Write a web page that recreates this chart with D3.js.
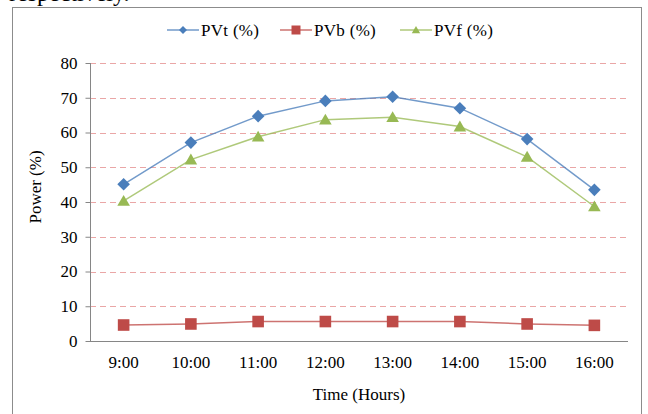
<!DOCTYPE html>
<html>
<head>
<meta charset="utf-8">
<script src="https://cdn.jsdelivr.net/npm/d3@7"></script>
<style>
  html, body { margin: 0; padding: 0; background: #fff; }
  svg { display: block; }
  text { font-family: "Liberation Serif", "Times New Roman", serif; fill: #000; }
</style>
</head>
<body>
<svg id="chart" width="648" height="414"></svg>
<script>
// Hourly readings
const hours = ["9:00", "10:00", "11:00", "12:00", "13:00", "14:00", "15:00", "16:00"];
const pvt = [45.1, 57.1, 64.7, 69.1, 70.3, 67.0, 58.1, 43.5];
const pvb = [4.6, 4.9, 5.6, 5.6, 5.6, 5.6, 4.9, 4.5];
const pvf = [40.3, 52.2, 58.8, 63.7, 64.4, 61.7, 53.0, 38.7];
const yTicks = [0, 10, 20, 30, 40, 50, 60, 70, 80];

const seriesList = [
  { name: "PVt (%)", values: pvt, line: "#4F81BD", fill: "#4A7EBB", shape: "diamond" },
  { name: "PVb (%)", values: pvb, line: "#C0504D", fill: "#BE4B48", shape: "square" },
  { name: "PVf (%)", values: pvf, line: "#9BBB59", fill: "#98B954", shape: "triangle" }
];

const svg = d3.select("#chart");
const margin = { left: 90, right: 628, top: 63, bottom: 341 };

const x = d3.scaleBand().domain(hours).range([margin.left, margin.right]).padding(0);
const y = d3.scaleLinear().domain([0, 80]).range([margin.bottom, margin.top]);

// Line of running text above the figure, running off the top edge
svg.append("text")
  .attr("x", 9).attr("y", 0.5)
  .style("font-size", "24px")
  .text("respectively.");

// Outer frame
svg.append("rect")
  .attr("x", 12.5).attr("y", 7.5)
  .attr("width", 629).attr("height", 420)
  .attr("fill", "#fff").attr("stroke", "#8c8c8c").attr("stroke-width", 1);

// Dashed horizontal gridlines
svg.append("g")
  .selectAll("line")
  .data(yTicks.filter(t => t > 0))
  .join("line")
  .attr("x1", margin.left).attr("x2", margin.right)
  .attr("y1", d => Math.round(y(d)) + 0.5).attr("y2", d => Math.round(y(d)) + 0.5)
  .attr("stroke", "#eaa6a6").attr("stroke-width", 1)
  .attr("stroke-dasharray", "6,4");

// Y axis
const yAxis = svg.append("g")
  .attr("transform", `translate(${margin.left + 0.5},0)`)
  .call(d3.axisLeft(y).tickValues(yTicks).tickSize(5).tickPadding(8).tickFormat(d3.format("d")));
yAxis.select(".domain").attr("stroke", "#868686").attr("d", `M0,${margin.top}V${margin.bottom + 0.5}`);
yAxis.selectAll(".tick line").attr("stroke", "#868686");
yAxis.selectAll(".tick text")
  .style("font-size", "17px")
  .style("font-family", "'Liberation Serif', serif")
  .attr("fill", "#000");

// X axis
const xAxis = svg.append("g")
  .attr("transform", `translate(0,${margin.bottom + 0.5})`)
  .call(d3.axisBottom(x).tickSize(0).tickPadding(14));
xAxis.select(".domain").attr("stroke", "#868686").attr("d", `M${margin.left},0H${margin.right}`);
xAxis.selectAll(".tick text")
  .style("font-size", "17px")
  .style("font-family", "'Liberation Serif', serif")
  .attr("fill", "#000");

// Axis titles
svg.append("text")
  .attr("x", (margin.left + margin.right) / 2).attr("y", 400)
  .attr("text-anchor", "middle")
  .style("font-size", "17px")
  .text("Time (Hours)");

svg.append("text")
  .attr("transform", "translate(41,187) rotate(-90)")
  .attr("text-anchor", "middle")
  .style("font-size", "17px")
  .text("Power (%)");

// Marker shapes
function markerPath(shape, s) {
  if (shape === "diamond") return `M0,${-s}L${s},0L0,${s}L${-s},0Z`;
  if (shape === "square") return `M${-s},${-s}H${s}V${s}H${-s}Z`;
  return `M0,${-s * 1.0}L${s * 1.05},${s * 0.8}H${-s * 1.05}Z`;
}
const markerSize = { diamond: 6.3, square: 5.8, triangle: 6 };

const cx = d => x(d) + x.bandwidth() / 2;
const line = d3.line().x((d, i) => cx(hours[i])).y(d => y(d));

seriesList.forEach(s => {
  const g = svg.append("g");
  g.append("path")
    .datum(s.values)
    .attr("d", line)
    .attr("fill", "none")
    .attr("stroke", s.line)
    .attr("stroke-opacity", 0.8)
    .attr("stroke-width", 1.5);
  g.selectAll("path.mk")
    .data(s.values)
    .join("path")
    .attr("class", "mk")
    .attr("transform", (d, i) => `translate(${cx(hours[i])},${y(d)})`)
    .attr("d", markerPath(s.shape, markerSize[s.shape]))
    .attr("fill", s.fill);
});

// Legend
const legendStarts = [167, 280, 400];
const legendY = 30;
seriesList.forEach((s, i) => {
  const lx = legendStarts[i];
  const g = svg.append("g");
  g.append("line")
    .attr("x1", lx).attr("x2", lx + 32)
    .attr("y1", legendY).attr("y2", legendY)
    .attr("stroke", s.line).attr("stroke-width", 1.5).attr("stroke-opacity", 0.8);
  g.append("path")
    .attr("transform", `translate(${lx + 16},${legendY})`)
    .attr("d", markerPath(s.shape, s.shape === "square" ? 4.5 : 4))
    .attr("fill", s.fill);
  g.append("text")
    .attr("x", lx + 34).attr("y", legendY + 6)
    .style("font-size", "17px")
    .style("letter-spacing", "0.3px")
    .text(s.name);
});
</script>
</body>
</html>
